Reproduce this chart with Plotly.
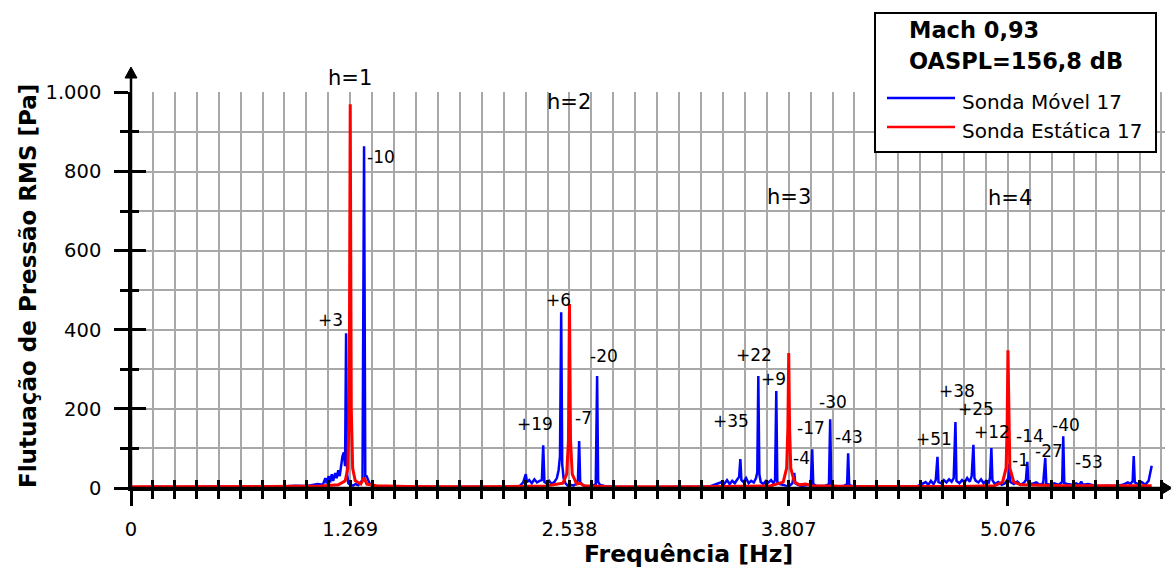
import plotly.graph_objects as go

# ---------------- data ----------------
# Sonda Móvel 17 (blue) spectrum: frequency [Hz], RMS pressure [Pa]
freq_movel = [0, 150, 300, 450, 600, 750, 850, 950, 1020, 1080, 1110, 1125, 1132, 1145, 1152, 1162, 1170,
              1182, 1190, 1200, 1208, 1216, 1224, 1232, 1239, 1245, 1251, 1258, 1270, 1285, 1300, 1315, 1330,
              1340, 1349, 1356, 1362, 1370, 1380, 1395, 1450, 1600, 1800, 2000, 2150, 2250, 2270, 2285, 2292,
              2305, 2320, 2335, 2350, 2365, 2378, 2386, 2393, 2405, 2420, 2435, 2450, 2465, 2475, 2483, 2490,
              2496, 2504, 2515, 2530, 2545, 2560, 2575, 2587, 2594, 2600, 2615, 2630, 2650, 2675, 2690, 2698,
              2704, 2715, 2740, 2800, 3000, 3200, 3350, 3420, 3430, 3450, 3465, 3480, 3495, 3510, 3520, 3527,
              3533, 3545, 3560, 3575, 3590, 3605, 3618, 3625, 3631, 3637, 3645, 3660, 3675, 3690, 3705, 3718,
              3728, 3735, 3741, 3755, 3770, 3790, 3810, 3828, 3835, 3839, 3845, 3860, 3880, 3900, 3925, 3935,
              3943, 3949, 3965, 3990, 4020, 4040, 4047, 4053, 4070, 4100, 4130, 4145, 4151, 4157, 4180, 4250,
              4400, 4550, 4600, 4615, 4630, 4645, 4658, 4668, 4674, 4690, 4705, 4720, 4735, 4750, 4762, 4772,
              4778, 4795, 4810, 4825, 4840, 4855, 4866, 4876, 4882, 4890, 4905, 4920, 4935, 4950, 4965, 4972,
              4980, 4986, 5000, 5020, 5040, 5060, 5078, 5084, 5090, 5110, 5130, 5150, 5170, 5180, 5188, 5194,
              5215, 5240, 5260, 5280, 5292, 5298, 5320, 5345, 5370, 5390, 5396, 5402, 5420, 5445, 5470, 5490,
              5500, 5510, 5540, 5580, 5620, 5660, 5700, 5740, 5770, 5785, 5798, 5804, 5810, 5830, 5850, 5870,
              5890, 5908]
p_movel = [2, 3, 2, 3, 2, 4, 3, 6, 5, 10, 8, 25, 12, 30, 14, 35, 18,
           38, 25, 45, 30, 55, 80, 90, 55, 391, 35, 12, 8, 6, 10, 7, 14,
           20, 864, 28, 32, 22, 12, 6, 4, 3, 2, 3, 2, 5, 14, 35, 15,
           20, 12, 22, 14, 18, 20, 108, 15, 12, 18, 10, 15, 25, 45, 80, 444,
           60, 25, 12, 5, 8, 6, 10, 20, 119, 15, 8, 5, 4, 6, 10, 283,
           15, 8, 5, 3, 2, 3, 4, 15, 8, 20, 10, 18, 12, 22, 28, 73,
           20, 15, 25, 12, 18, 14, 25, 40, 283, 35, 15, 10, 18, 14, 20, 12,
           20, 245, 15, 10, 8, 6, 5, 12, 30, 38, 12, 8, 5, 6, 8, 12,
           98, 10, 6, 5, 6, 10, 174, 10, 5, 4, 6, 10, 88, 8, 4, 3,
           3, 4, 15, 8, 18, 10, 20, 79, 15, 12, 20, 14, 22, 16, 25, 167,
           18, 12, 20, 14, 25, 16, 30, 109, 25, 18, 14, 22, 12, 18, 14, 25,
           101, 20, 10, 15, 8, 12, 25, 60, 15, 10, 16, 8, 14, 20, 66, 12,
           10, 14, 8, 12, 76, 10, 8, 12, 8, 15, 131, 12, 10, 8, 12, 8,
           16, 8, 10, 6, 5, 6, 5, 8, 14, 10, 18, 81, 14, 10, 15, 8,
           18, 56]

# Sonda Estática 17 (red) spectrum
freq_estatica = [0, 300, 800, 1100, 1200, 1240, 1255, 1263, 1269, 1275, 1283, 1298, 1330, 1349, 1365, 1420,
                 1600, 2000, 2400, 2500, 2522, 2532, 2538, 2544, 2554, 2580, 2600, 2620, 2750, 3300, 3700,
                 3775, 3795, 3802, 3807, 3812, 3819, 3840, 3870, 3905, 3940, 4200, 4800, 5000, 5045, 5065,
                 5071, 5076, 5081, 5087, 5110, 5150, 5400, 5908]
p_estatica = [3, 3, 4, 5, 8, 18, 50, 200, 970, 200, 50, 18, 10, 26, 10, 6,
              4, 3, 5, 12, 35, 120, 465, 120, 35, 10, 12, 6, 4, 3, 5,
              15, 50, 150, 341, 150, 50, 15, 8, 10, 6, 4, 4, 6, 15, 50,
              150, 348, 150, 50, 15, 8, 6, 6]

x_tickvals = [0, 1269, 2538, 3807, 5076]
x_ticktext = ["0", "1.269", "2.538", "3.807", "5.076"]
y_tickvals = [0, 200, 400, 600, 800, 1000]
y_ticktext = ["0", "200", "400", "600", "800", "1.000"]

# peak labels: (text, x pixel centre, y pixel centre)
peak_labels = [("+3", 330, 320), ("-10", 381, 157),
               ("+19", 535, 424), ("+6", 558, 300), ("-7", 583, 418), ("-20", 604, 356),
               ("+35", 731, 421), ("+22", 754, 355), ("+9", 773, 379), ("-4", 801, 458),
               ("-17", 811, 428), ("-30", 833, 402), ("-43", 849, 437),
               ("+51", 934, 439), ("+38", 957, 391), ("+25", 976, 409), ("+12", 992, 432),
               ("-1", 1020, 460), ("-14", 1030, 436), ("-27", 1049, 451), ("-40", 1066, 425),
               ("-53", 1089, 462)]
harmonic_labels = [("h=1", 350, 78), ("h=2", 569, 102), ("h=3", 789, 197), ("h=4", 1010, 198)]

# ---------------- layout geometry ----------------
W, H = 1171, 571
L, R, T, B = 131, 6, 92, 83
PW, PH = W - L - R, H - T - B


def px(x):
    return (x - L) / PW


def py(y):
    return (H - B - y) / PH


FONT = "DejaVu Sans"
GRID = "#a8a8a8"

fig = go.Figure()
fig.add_trace(go.Scatter(x=freq_movel, y=p_movel, mode="lines", name="Sonda Móvel 17",
                         line=dict(color="#0000ff", width=2.5), showlegend=False,
                         xaxis="x", yaxis="y"))
fig.add_trace(go.Scatter(x=freq_estatica, y=p_estatica, mode="lines", name="Sonda Estática 17",
                         line=dict(color="#ff0000", width=3), showlegend=False,
                         xaxis="x2", yaxis="y2"))

common_font = dict(family=FONT, size=19.5, color="black")

fig.update_layout(
    width=W, height=H,
    margin=dict(l=L, r=R, t=T, b=B, pad=0),
    paper_bgcolor="white", plot_bgcolor="white",
    font=dict(family=FONT, color="black"),
    xaxis=dict(range=[0, 5985], tickmode="array", tickvals=x_tickvals, ticktext=x_ticktext,
               ticks="outside", ticklen=15, tickwidth=2.5, tickcolor="black",
               tickfont=common_font, ticklabelstandoff=7,
               showgrid=True, gridcolor=GRID, gridwidth=2,
               showline=True, linecolor="black", linewidth=2.5, zeroline=False,
               minor=dict(tickmode="linear", tick0=0, dtick=126.9, ticks="outside", ticklen=8,
                          tickwidth=2.5, tickcolor="black", showgrid=True, gridcolor=GRID, gridwidth=2)),
    yaxis=dict(range=[0, 1001], tickmode="array", tickvals=y_tickvals, ticktext=y_ticktext,
               ticks="outside", ticklen=14, tickwidth=2.5, tickcolor="black",
               tickfont=common_font, ticklabelstandoff=9,
               showgrid=True, gridcolor=GRID, gridwidth=2,
               showline=True, linecolor="black", linewidth=2.5, zeroline=False,
               minor=dict(tickmode="linear", tick0=0, dtick=100, ticks="outside", ticklen=8,
                          tickwidth=2.5, tickcolor="black", showgrid=True, gridcolor=GRID, gridwidth=2)),
    xaxis2=dict(matches="x", overlaying="x", anchor="y2", side="bottom",
                tickmode="array", tickvals=x_tickvals, ticks="inside", ticklen=8, tickwidth=2.5,
                tickcolor="black", showticklabels=False, showgrid=False, showline=False, zeroline=False,
                minor=dict(tickmode="linear", tick0=0, dtick=126.9, ticks="inside", ticklen=8,
                           tickwidth=2.5, tickcolor="black", showgrid=False)),
    yaxis2=dict(matches="y", overlaying="y", anchor="x2", side="left",
                tickmode="array", tickvals=y_tickvals, ticks="inside", ticklen=15, tickwidth=2.5,
                tickcolor="black", showticklabels=False, showgrid=False, showline=False, zeroline=False,
                minor=dict(tickmode="linear", tick0=0, dtick=100, ticks="inside", ticklen=8,
                           tickwidth=2.5, tickcolor="black", showgrid=False)),
)

shapes = []
# axis extensions with arrows
shapes.append(dict(type="line", xref="paper", yref="paper", x0=px(L), y0=py(H - B), x1=px(L), y1=py(72),
                   line=dict(color="black", width=2.5)))
shapes.append(dict(type="path", xref="paper", yref="paper",
                   path=f"M {px(L)},{py(67)} L {px(L-6)},{py(78)} L {px(L+6)},{py(78)} Z",
                   fillcolor="black", line=dict(color="black", width=1)))
shapes.append(dict(type="line", xref="paper", yref="paper", x0=px(L), y0=py(H - B), x1=px(1168), y1=py(H - B),
                   line=dict(color="black", width=2.5)))
shapes.append(dict(type="path", xref="paper", yref="paper",
                   path=f"M {px(1172)},{py(H-B)} L {px(1162)},{py(H-B-6)} L {px(1162)},{py(H-B+6)} Z",
                   fillcolor="black", line=dict(color="black", width=1)))
# legend box
shapes.append(dict(type="rect", xref="paper", yref="paper", x0=px(875), y0=py(13), x1=px(1156), y1=py(152),
                   fillcolor="white", line=dict(color="black", width=2), layer="above"))
shapes.append(dict(type="line", xref="paper", yref="paper", x0=px(887), y0=py(98), x1=px(955), y1=py(98),
                   line=dict(color="#0000ff", width=2.5), layer="above"))
shapes.append(dict(type="line", xref="paper", yref="paper", x0=px(887), y0=py(127), x1=px(955), y1=py(127),
                   line=dict(color="#ff0000", width=2.5), layer="above"))

annotations = []
for text, x, y in peak_labels:
    annotations.append(dict(text=text, x=px(x), y=py(y), xref="paper", yref="paper", showarrow=False,
                            xanchor="center", yanchor="middle", font=dict(family=FONT, size=17, color="black")))
for text, x, y in harmonic_labels:
    annotations.append(dict(text=text, x=px(x), y=py(y), xref="paper", yref="paper", showarrow=False,
                            xanchor="center", yanchor="middle", font=dict(family=FONT, size=21, color="black")))
# axis titles
annotations.append(dict(text="<b>Frequência [Hz]</b>", x=px(688), y=py(554), xref="paper", yref="paper",
                        showarrow=False, xanchor="center", yanchor="middle",
                        font=dict(family=FONT, size=23.5, color="black")))
annotations.append(dict(text="<b>Flutuação de Pressão RMS [Pa]</b>", x=px(28), y=py(286), xref="paper",
                        yref="paper", showarrow=False, textangle=-90, xanchor="center", yanchor="middle",
                        font=dict(family=FONT, size=23, color="black")))
# legend texts
annotations.append(dict(text="<b>Mach 0,93</b>", x=px(907), y=py(30), xref="paper", yref="paper",
                        showarrow=False, xanchor="left", yanchor="middle",
                        font=dict(family=FONT, size=22.5, color="black")))
annotations.append(dict(text="<b>OASPL=156,8 dB</b>", x=px(907), y=py(61), xref="paper", yref="paper",
                        showarrow=False, xanchor="left", yanchor="middle",
                        font=dict(family=FONT, size=22.5, color="black")))
annotations.append(dict(text="Sonda Móvel 17", x=px(960), y=py(102), xref="paper", yref="paper",
                        showarrow=False, xanchor="left", yanchor="middle",
                        font=dict(family=FONT, size=20, color="black")))
annotations.append(dict(text="Sonda Estática 17", x=px(960), y=py(131), xref="paper", yref="paper",
                        showarrow=False, xanchor="left", yanchor="middle",
                        font=dict(family=FONT, size=20, color="black")))

fig.update_layout(shapes=shapes, annotations=annotations)
fig.write_html("out.html")
